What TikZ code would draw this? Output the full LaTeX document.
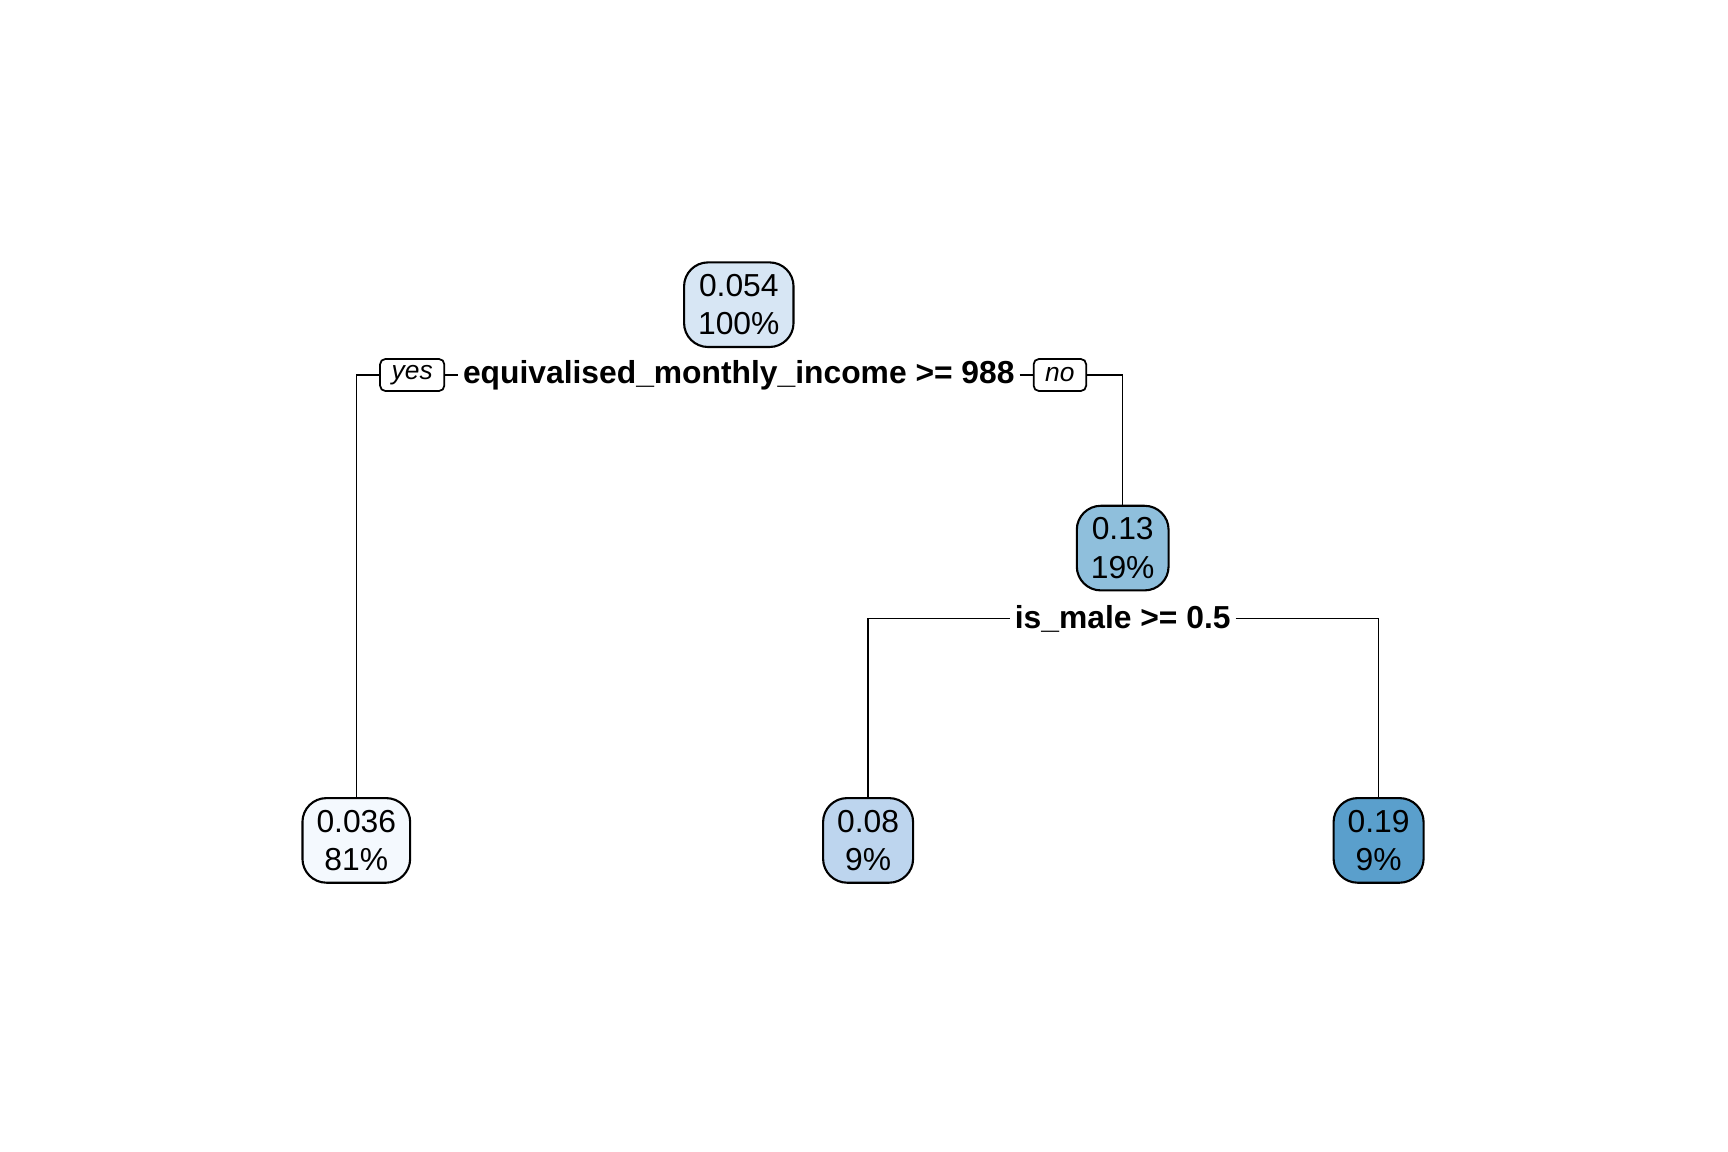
\documentclass[tikz,border=0pt]{standalone}
\usepackage{fontspec}
\setmainfont{Liberation Sans}
\usepackage{tikz}
\usetikzlibrary{backgrounds}
\definecolor{blueA}{HTML}{F4F9FE}
\definecolor{blueB}{HTML}{D7E6F4}
\definecolor{blueC}{HTML}{BDD5EE}
\definecolor{blueD}{HTML}{8FBFDC}
\definecolor{blueE}{HTML}{5A9FCC}

\begin{document}
\begin{tikzpicture}[
	leaf/.style={draw,line width=0.6pt,rounded corners=0.24cm,align=center,inner xsep=4pt,minimum height=0.84cm,font=\fontsize{9.05}{11}\selectfont},
	cond/.style={fill=white,inner xsep=1.2pt,inner ysep=1pt,font=\fontsize{9.05}{11}\selectfont\bfseries},
	yesno/.style={draw,fill=white,line width=0.5pt,rounded corners=1.5pt,inner xsep=3.3pt,inner ysep=0.5pt,minimum height=0.32cm,font=\fontsize{7.5}{9}\selectfont\itshape}
]
	\useasboundingbox (0,0) rectangle (17.28,-11.52);
	% nodes of the tree
	\node[leaf,fill=blueB] (root) at (7.388,-3.047) {0.054\\100\%};
	\node[leaf,fill=blueD] (n013) at (11.227,-5.481) {0.13\\19\%};
	\node[leaf,fill=blueA] (l036) at (3.563,-8.404) {0.036\\81\%};
	\node[leaf,fill=blueC] (l008) at (8.681,-8.404) {0.08\\9\%};
	\node[leaf,fill=blueE] (l019) at (13.786,-8.404) {0.19\\9\%};
	% split labels
	\node[cond] (split1) at (7.388,-3.75) {equivalised\_monthly\_income >= 988};
	\node[cond] (split2) at (11.227,-6.187) {is\_male >= 0.5};
	\node[yesno] (yes) at (4.122,-3.75) {yes};
	\node[yesno] (no) at (10.599,-3.75) {no};
	% branches
	\begin{scope}[on background layer,line width=0.6pt]
		\draw (l036.north) |- (split1) -| (n013.north);
		\draw (l008.north) |- (split2) -| (l019.north);
	\end{scope}
\end{tikzpicture}
\end{document}
